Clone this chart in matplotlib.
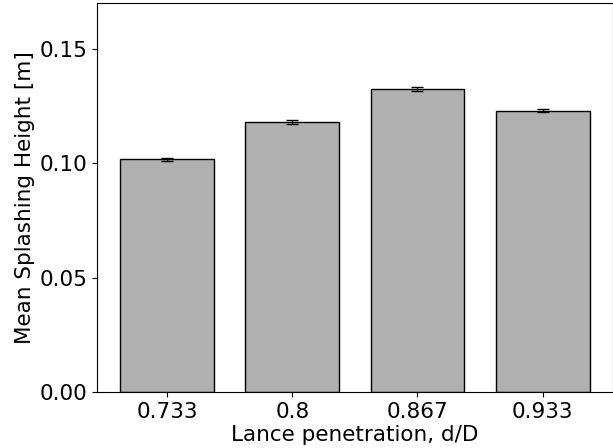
import matplotlib
matplotlib.use('Agg')
import matplotlib.pyplot as plt
import numpy as np

penetration = ['0.733', '0.8', '0.867', '0.933']
mean_height = [0.1017, 0.1181, 0.1325, 0.1230]
height_err = [0.0008, 0.0009, 0.0007, 0.0008]

fig = plt.figure(figsize=(6.13, 4.48), dpi=100)
ax = fig.add_axes([0.158, 0.125, 0.842, 0.868])

x = np.arange(len(penetration))
ax.bar(x, mean_height, width=0.75, yerr=height_err, color='#b0b0b0',
       edgecolor='black', linewidth=1.0, capsize=4,
       error_kw={'elinewidth': 1.0, 'capthick': 1.0})

ax.set_xticks(x)
ax.set_xticklabels(penetration)
ax.set_ylim(0, 0.17)
ax.set_yticks([0.0, 0.05, 0.10, 0.15])
ax.set_yticklabels(['0.00', '0.05', '0.10', '0.15'])
ax.tick_params(labelsize=15.5)
ax.set_xlabel('Lance penetration, d/D', fontsize=15.5, labelpad=2.5)
ax.set_ylabel('Mean Splashing Height [m]', fontsize=15.5, labelpad=3)

plt.savefig('out.png', dpi=100)
